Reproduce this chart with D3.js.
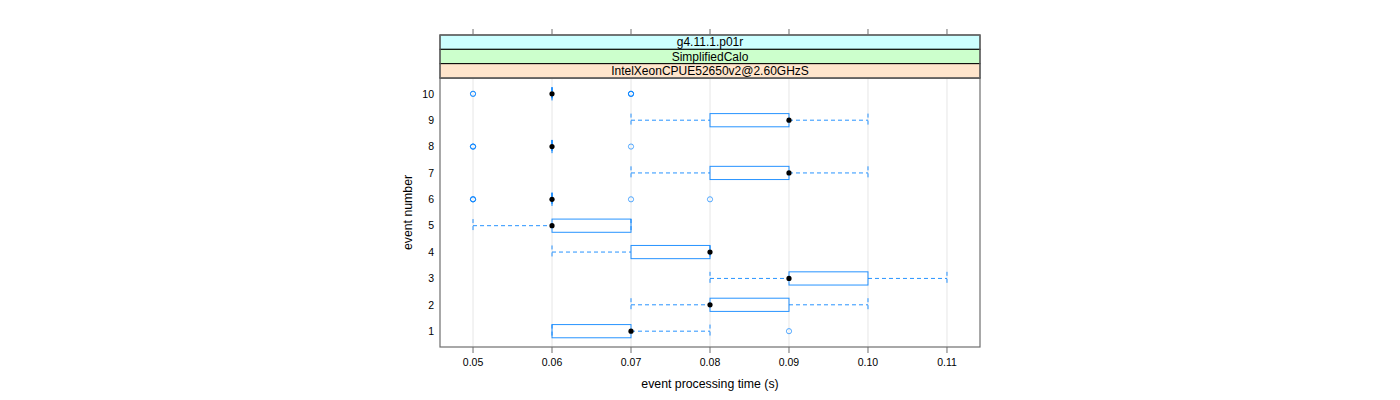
<!DOCTYPE html>
<html><head><meta charset="utf-8">
<script src="https://cdn.jsdelivr.net/npm/d3@7"></script>
<style>body{margin:0;background:#fff;} text{font-family:"Liberation Sans",Arial,sans-serif;}</style>
</head><body><svg id="c" width="1400" height="400"></svg>
<script>
const events = [1,2,3,4,5,6,7,8,9,10];
const lowerWhisker = [0.06,0.07,0.08,0.06,0.05,0.06,0.07,0.06,0.07,0.06];
const q1           = [0.06,0.08,0.09,0.07,0.06,0.06,0.08,0.06,0.08,0.06];
const median       = [0.07,0.08,0.09,0.08,0.06,0.06,0.09,0.06,0.09,0.06];
const q3           = [0.07,0.09,0.10,0.08,0.07,0.06,0.09,0.06,0.09,0.06];
const upperWhisker = [0.08,0.10,0.11,0.08,0.07,0.06,0.10,0.06,0.10,0.06];
const outliers = [[0.09],[],[],[],[],[0.05,0.05,0.05,0.07,0.08],[],[0.05,0.05,0.05,0.07],[],[0.05,0.05,0.07,0.07,0.07]];
const xTicks = [0.05,0.06,0.07,0.08,0.09,0.10,0.11];
const xTickLabels = ["0.05","0.06","0.07","0.08","0.09","0.10","0.11"];
const strips = ["g4.11.1.p01r","SimplifiedCalo","IntelXeonCPUE52650v2@2.60GHzS"];
const stripColors = ["#ccffff","#ccffcc","#ffe5cc"];
const xTitle = "event processing time (s)";
const yTitle = "event number";

const svg = d3.select("#c");
const L=440, R=980, T=78, B=347, stripH=14.33, stripTop=35;
const x = d3.scaleLinear().domain([0.04582,0.11418]).range([L,R]);
const y = d3.scaleLinear().domain([0.4,10.6]).range([B,T]);
const blue="#0080ff", hb=6.6;

// grid
svg.append("g").selectAll("line").data(xTicks).join("line")
  .attr("x1",d=>x(d)).attr("x2",d=>x(d)).attr("y1",T).attr("y2",B)
  .attr("stroke","#e6e6e6").attr("stroke-width",1);

const g = svg.append("g");
events.forEach((ev,i)=>{
  const yc = y(ev);
  [[lowerWhisker[i],q1[i]],[q3[i],upperWhisker[i]]].forEach(([a,b])=>{
    if (a!==b) {
      g.append("line").attr("x1",x(a)).attr("x2",x(b)).attr("y1",yc).attr("y2",yc)
        .attr("stroke",blue).attr("stroke-dasharray","4,3").attr("stroke-opacity",0.85);
    }
  });
  [lowerWhisker[i],upperWhisker[i]].forEach(w=>{
    g.append("line").attr("x1",x(w)).attr("x2",x(w)).attr("y1",yc-hb).attr("y2",yc+hb)
      .attr("stroke",blue).attr("stroke-dasharray","4,3").attr("stroke-opacity",0.85);
  });
  if (q1[i]!==q3[i]) {
    g.append("rect").attr("x",x(q1[i])).attr("y",yc-hb).attr("width",x(q3[i])-x(q1[i])).attr("height",2*hb)
      .attr("fill","none").attr("stroke",blue).attr("stroke-width",1).attr("stroke-opacity",0.85);
  } else {
    g.append("line").attr("x1",x(q1[i])).attr("x2",x(q1[i])).attr("y1",yc-hb).attr("y2",yc+hb)
      .attr("stroke",blue).attr("stroke-width",1);
  }
  outliers[i].forEach(o=>{
    g.append("circle").attr("cx",x(o)).attr("cy",yc).attr("r",2.6)
      .attr("fill","none").attr("stroke",blue).attr("stroke-width",1).attr("stroke-opacity",0.65);
  });
  g.append("circle").attr("cx",x(median[i])).attr("cy",yc).attr("r",2.6).attr("fill","#000");
});

svg.append("rect").attr("x",L).attr("y",T).attr("width",R-L).attr("height",B-T)
  .attr("fill","none").attr("stroke","#6e6e6e").attr("stroke-width",1.2);

strips.forEach((s,k)=>{
  const yt = stripTop + k*stripH;
  svg.append("rect").attr("x",L).attr("y",yt).attr("width",R-L).attr("height",stripH)
    .attr("fill",stripColors[k]).attr("stroke","#000").attr("stroke-width",1);
  svg.append("text").attr("x",(L+R)/2).attr("y",yt+stripH/2+4.2).attr("text-anchor","middle")
    .attr("font-size",12).attr("fill","#000").text(s);
});
svg.append("rect").attr("x",L).attr("y",stripTop).attr("width",R-L).attr("height",3*stripH)
  .attr("fill","none").attr("stroke","#6e6e6e").attr("stroke-width",1.2);

const xb = svg.append("g");
xTicks.forEach((t,k)=>{
  xb.append("line").attr("x1",x(t)).attr("x2",x(t)).attr("y1",B).attr("y2",B+6).attr("stroke","#6e6e6e");
  xb.append("text").attr("x",x(t)).attr("y",B+19).attr("text-anchor","middle").attr("font-size",10.5).text(xTickLabels[k]);
  svg.append("line").attr("x1",x(t)).attr("x2",x(t)).attr("y1",stripTop-6).attr("y2",stripTop).attr("stroke","#6e6e6e");
});
events.forEach(ev=>{
  svg.append("text").attr("x",L-6).attr("y",y(ev)+3.8).attr("text-anchor","end").attr("font-size",10.5).text(String(ev));
});
svg.append("text").attr("x",(L+R)/2).attr("y",388).attr("text-anchor","middle").attr("font-size",12.3).text(xTitle);
svg.append("text").attr("transform",`translate(412,${(T+B)/2}) rotate(-90)`).attr("text-anchor","middle").attr("font-size",12.3).text(yTitle);
</script></body></html>
